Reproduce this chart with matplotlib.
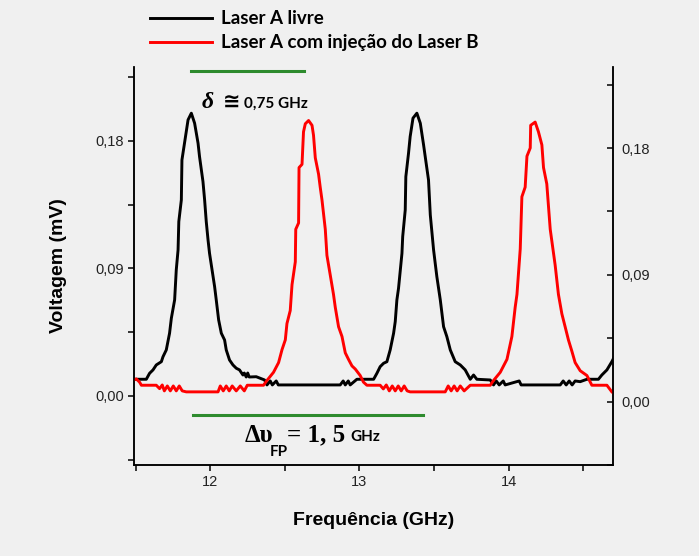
import matplotlib
matplotlib.use("Agg")
import matplotlib.pyplot as plt

# Fabry-Perot scan: free laser A (left axis) vs laser A injected by laser B (right axis)
freq_livre = [11.484, 11.504, 11.571, 11.593, 11.616, 11.638, 11.672, 11.683, 11.705, 11.727,
              11.739, 11.761, 11.772, 11.784, 11.789, 11.806, 11.810, 11.839, 11.851, 11.873,
              11.895, 11.918, 11.928, 11.951, 11.962, 11.973, 11.985, 11.995, 12.029, 12.040,
              12.056, 12.074, 12.096, 12.107, 12.129, 12.152, 12.174, 12.196, 12.219, 12.228,
              12.241, 12.251, 12.261, 12.308, 12.364, 12.380, 12.402, 12.416, 12.442, 12.456,
              12.514, 12.871, 12.891, 12.905, 12.925, 12.938, 12.983, 13.095, 13.117, 13.139,
              13.162, 13.184, 13.206, 13.229, 13.240, 13.251, 13.262, 13.285, 13.290, 13.307,
              13.311, 13.329, 13.340, 13.359, 13.385, 13.408, 13.430, 13.441, 13.463, 13.475,
              13.497, 13.519, 13.542, 13.564, 13.586, 13.609, 13.642, 13.676, 13.709, 13.743,
              13.765, 13.787, 13.877, 13.899, 13.917, 13.937, 13.964, 13.977, 14.071, 14.084,
              14.346, 14.366, 14.386, 14.406, 14.426, 14.446, 14.480, 14.525, 14.602, 14.625,
              14.659, 14.692, 14.708]
volt_livre = [0.0118, 0.0118, 0.0118, 0.0160, 0.0184, 0.0219, 0.0242, 0.0277, 0.0325, 0.0443,
              0.0549, 0.0678, 0.0890, 0.1031, 0.1231, 0.1384, 0.1666, 0.1866, 0.1949, 0.1996,
              0.1925, 0.1784, 0.1689, 0.1513, 0.1384, 0.1231, 0.1101, 0.1007, 0.0772, 0.0678,
              0.0537, 0.0443, 0.0395, 0.0325, 0.0254, 0.0219, 0.0196, 0.0184, 0.0148, 0.0162,
              0.0134, 0.0162, 0.0134, 0.0136, 0.0113, 0.0078, 0.0106, 0.0078, 0.0106, 0.0078,
              0.0078, 0.0078, 0.0106, 0.0078, 0.0106, 0.0078, 0.0118, 0.0118, 0.0160, 0.0207,
              0.0231, 0.0242, 0.0325, 0.0443, 0.0525, 0.0678, 0.0760, 0.1007, 0.1125, 0.1313,
              0.1548, 0.1713, 0.1831, 0.1961, 0.1996, 0.1925, 0.1772, 0.1689, 0.1525, 0.1278,
              0.1031, 0.0842, 0.0678, 0.0489, 0.0419, 0.0325, 0.0242, 0.0219, 0.0184, 0.0118,
              0.0148, 0.0118, 0.0113, 0.0078, 0.0106, 0.0078, 0.0106, 0.0078, 0.0106, 0.0078,
              0.0078, 0.0106, 0.0078, 0.0106, 0.0078, 0.0106, 0.0101, 0.0118, 0.0118, 0.0148,
              0.0184, 0.0242, 0.0275]

freq_injecao = [11.484, 11.504, 11.526, 11.538, 11.638, 11.660, 11.678, 11.692, 11.712, 11.732,
                11.752, 11.772, 11.792, 11.812, 11.839, 12.052, 12.067, 12.087, 12.107, 12.127,
                12.147, 12.174, 12.201, 12.228, 12.248, 12.357, 12.380, 12.424, 12.458, 12.481,
                12.503, 12.514, 12.536, 12.548, 12.570, 12.573, 12.592, 12.595, 12.615, 12.625,
                12.637, 12.659, 12.682, 12.692, 12.704, 12.726, 12.737, 12.749, 12.771, 12.782,
                12.804, 12.826, 12.838, 12.860, 12.883, 12.905, 12.927, 12.950, 12.972, 13.005,
                13.027, 13.050, 13.139, 13.160, 13.180, 13.200, 13.220, 13.240, 13.260, 13.280,
                13.300, 13.320, 13.340, 13.575, 13.595, 13.615, 13.635, 13.655, 13.676, 13.702,
                13.743, 13.877, 13.899, 13.944, 13.989, 14.022, 14.044, 14.056, 14.078, 14.089,
                14.111, 14.123, 14.145, 14.148, 14.178, 14.200, 14.223, 14.234, 14.256, 14.279,
                14.312, 14.334, 14.357, 14.379, 14.401, 14.424, 14.446, 14.480, 14.525, 14.558,
                14.659, 14.692, 14.708]
volt_injecao = [0.0152, 0.0161, 0.0138, 0.0116, 0.0116, 0.0092, 0.0118, 0.0076, 0.0111, 0.0076,
                0.0111, 0.0076, 0.0111, 0.0076, 0.0069, 0.0069, 0.0111, 0.0076, 0.0111, 0.0076,
                0.0111, 0.0076, 0.0111, 0.0076, 0.0116, 0.0116, 0.0150, 0.0208, 0.0277, 0.0369,
                0.0438, 0.0554, 0.0646, 0.0830, 0.0992, 0.1223, 0.1268, 0.1661, 0.1684, 0.1915,
                0.1972, 0.1995, 0.1961, 0.1891, 0.1730, 0.1614, 0.1522, 0.1430, 0.1223, 0.1038,
                0.0900, 0.0761, 0.0669, 0.0531, 0.0462, 0.0346, 0.0299, 0.0253, 0.0231, 0.0185,
                0.0138, 0.0116, 0.0116, 0.0090, 0.0118, 0.0076, 0.0111, 0.0076, 0.0111, 0.0076,
                0.0111, 0.0076, 0.0069, 0.0069, 0.0111, 0.0076, 0.0111, 0.0076, 0.0111, 0.0076,
                0.0116, 0.0116, 0.0150, 0.0208, 0.0300, 0.0462, 0.0669, 0.0761, 0.1084, 0.1454,
                0.1522, 0.1742, 0.1800, 0.1961, 0.1984, 0.1915, 0.1822, 0.1661, 0.1545, 0.1223,
                0.0969, 0.0761, 0.0623, 0.0531, 0.0438, 0.0358, 0.0277, 0.0219, 0.0185, 0.0116,
                0.0116, 0.0069, 0.0055]

# green markers: detuning (top) and FSR (bottom)
delta_x = [11.87, 12.63]
delta_y = 0.2294
fsr_x = [11.886, 13.428]
fsr_y = -0.0134

yticks = [0.00, 0.09, 0.18]
ytick_labels = ["0,00", "0,09", "0,18"]
xticks = [12, 13, 14]

bg = "#f0f0f0"
green = "#2e8b2e"
tick_font = "Liberation Sans"
label_font = ["Lato", "DejaVu Sans"]

fig = plt.figure(figsize=(6.99, 5.56), dpi=100, facecolor=bg)
ax = fig.add_axes([0.192, 0.1637, 0.685, 0.7158], facecolor=bg)
ax2 = ax.twinx()

l1, = ax.plot(freq_livre, volt_livre, color="black", linewidth=2.1)
l2, = ax2.plot(freq_injecao, volt_injecao, color="red", linewidth=2.1)
ax.plot(delta_x, [delta_y, delta_y], color=green, linewidth=2.2, clip_on=False)
ax.plot(fsr_x, [fsr_y, fsr_y], color=green, linewidth=2.2)

ax.set_xlim(11.49, 14.70)
ax.set_ylim(-0.0487, 0.2322)
ax2.set_ylim(-0.0381, 0.2375)

ax.set_xticks(xticks)
ax.set_xticks([11.5, 12.5, 13.5, 14.5], minor=True)
ax.set_xticklabels([str(t) for t in xticks], fontfamily=tick_font, fontsize=10.5, color="#222222")
ax.set_yticks(yticks)
ax.set_yticks([-0.045, 0.045, 0.135, 0.225], minor=True)
ax.set_yticklabels(ytick_labels, fontfamily=tick_font, fontsize=10.5, color="#222222")
ax2.set_yticks(yticks)
ax2.set_yticks([-0.045, 0.045, 0.135, 0.225], minor=True)
ax2.set_yticklabels(ytick_labels, fontfamily=tick_font, fontsize=10.5, color="#222222")

ax.tick_params(axis="both", which="both", direction="out", length=4, width=1.1)
ax2.tick_params(axis="y", which="both", direction="in", length=4, width=1.1, pad=6)
for a in (ax, ax2):
    a.spines["top"].set_visible(False)
    for s in ("left", "right", "bottom"):
        a.spines[s].set_linewidth(1.1)

ax.set_xlabel("Frequência (GHz)", fontfamily=tick_font, fontsize=14, fontweight="bold", labelpad=16)
ax.set_ylabel("Voltagem (mV)", fontfamily=tick_font, fontsize=14, fontweight="bold", labelpad=20)

fig.legend([l1, l2], ["Laser A livre", "Laser A com injeção do Laser B"],
           loc="upper left", bbox_to_anchor=(0.19, 1.012), frameon=False,
           prop={"family": label_font, "weight": "bold", "size": 13.5},
           handlelength=3.3, handletextpad=0.5, labelspacing=0.38)

def px(x, y):
    return x / 699, 1 - y / 556

serif = ["Liberation Serif", "DejaVu Serif"]
fig.text(*px(202, 103), "δ", family=serif, weight="bold", style="italic", fontsize=17, va="center")
fig.text(*px(223, 102), "≅", family=["DejaVu Sans"], weight="bold", fontsize=15, va="center")
fig.text(*px(244, 104), "0,75 GHz", family=label_font, weight="bold", fontsize=11, va="center")

fig.text(*px(245, 435), "Δυ", family=serif, weight="bold", fontsize=18, va="center")
fig.text(*px(270, 452), "FP", family=label_font, weight="bold", fontsize=11, va="center")
fig.text(*px(287, 435), "= 1, 5", family=serif, weight="bold", fontsize=18, va="center")
fig.text(*px(350, 437), "GHz", family=label_font, weight="bold", fontsize=11, va="center")

fig.savefig("out.png", dpi=100, facecolor=bg)
